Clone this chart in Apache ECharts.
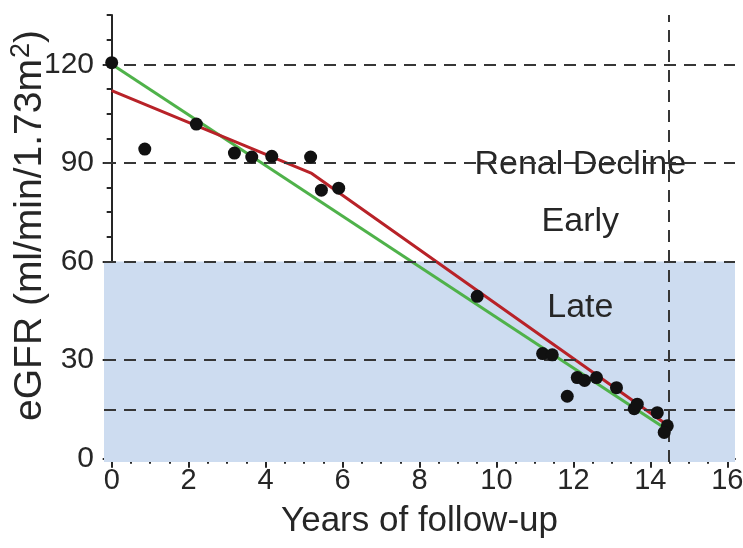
<!DOCTYPE html>
<html>
<head>
<meta charset="utf-8">
<script src="https://cdn.jsdelivr.net/npm/echarts@6/dist/echarts.min.js"></script>
<style>
  html, body { margin: 0; padding: 0; background: #fff; }
  #chart { width: 743px; height: 548px; }
</style>
</head>
<body>
<div id="chart"></div>
<script>
// Observed eGFR measurements over follow-up
const years = [0, 0.86, 2.2, 3.19, 3.64, 4.16, 5.17, 5.45, 5.9, 9.5,
  11.2, 11.45, 11.84, 12.1, 12.29, 12.6, 13.12, 13.58, 13.66, 14.18, 14.44, 14.36];
const egfr = [120.5, 94.2, 101.8, 93, 91.8, 92, 91.8, 81.7, 82.3, 49.4,
  32, 31.6, 19, 24.7, 23.8, 24.7, 21.6, 15.2, 16.6, 14, 10, 8];

// Linear fit (green)
const linearYears = [0, 14.35];
const linearEgfr = [120, 9.5];

// Two-slope fit (red)
const piecewiseYears = [0, 5.2, 14.35];
const piecewiseEgfr = [112, 86.8, 11];

// Reference levels and end of follow-up
const thresholds = [120, 90, 60, 30, 15];
const followUpEnd = 14.47;
const lateStageTop = 60;

// Axis ticks
const xLabels = [0, 2, 4, 6, 8, 10, 12, 14, 16];
const xMinor = [0.5, 1, 1.5, 2.5, 3, 3.5, 4.5, 5, 5.5, 6.5, 7, 7.5, 8.5, 9, 9.5,
  10.5, 11, 11.5, 12.5, 13, 13.5, 14.5, 15, 15.5];
const yLabels = [0, 30, 60, 90, 120];
const yMinor = [7.5, 15, 22.5, 37.5, 45, 52.5, 67.5, 75, 82.5, 97.5, 105, 112.5, 127.5, 135];

// Stage annotations
const stageNames = ['Renal Decline', 'Early', 'Late'];
const stageX = [12.18, 12.18, 12.18];
const stageY = [89.5, 72, 46];

const FONT = 'Liberation Sans, Arial, Helvetica, sans-serif';
const INK = '#262626';

const pair = (xs, ys) => xs.map((x, i) => [x, ys[i]]);

const chart = echarts.init(document.getElementById('chart'), null, { renderer: 'canvas' });

const dashStyle = { color: '#363636', width: 2, type: [12, 8] };

chart.setOption({
  animation: false,
  backgroundColor: '#ffffff',
  grid: { left: 104, right: 8, top: 15, bottom: 86, containLabel: false, outerBoundsMode: 'none' },
  xAxis: [
    {
      type: 'value', min: -0.2, max: 16.2,
      name: 'Years of follow-up', nameLocation: 'middle', nameGap: 42, nameMoveOverlap: false,
      nameTextStyle: { fontFamily: FONT, fontSize: 35, color: INK },
      axisLine: { show: true, lineStyle: { color: INK, width: 2 } },
      axisTick: { show: true, length: 9, customValues: xLabels, lineStyle: { color: INK, width: 2 } },
      axisLabel: { customValues: xLabels, fontFamily: FONT, fontSize: 29, color: INK, margin: 4 },
      splitLine: { show: false }
    },
    {
      type: 'value', min: -0.2, max: 16.2, position: 'bottom',
      axisLine: { show: false },
      axisTick: { show: true, length: 5, customValues: xMinor, lineStyle: { color: INK, width: 2 } },
      axisLabel: { show: false },
      splitLine: { show: false }
    }
  ],
  yAxis: [
    {
      type: 'value', min: -1, max: 135,
      name: 'eGFR (ml/min/1.73m{sup|2})', nameLocation: 'middle', nameGap: 52, nameMoveOverlap: false,
      nameTextStyle: {
        fontFamily: FONT, fontSize: 39, color: INK, padding: [0, 0, 0, 26],
        rich: { sup: { fontFamily: FONT, fontSize: 27, color: INK, verticalAlign: 'top', padding: [0, 0, 17, 1] } }
      },
      axisLine: { show: true, lineStyle: { color: INK, width: 2 } },
      axisTick: { show: true, length: 9, customValues: yLabels, lineStyle: { color: INK, width: 2 } },
      axisLabel: { customValues: yLabels, fontFamily: FONT, fontSize: 30, color: INK, margin: 10 },
      splitLine: { show: false }
    },
    {
      type: 'value', min: -1, max: 135, position: 'left',
      axisLine: { show: false },
      axisTick: { show: true, length: 5, customValues: yMinor, lineStyle: { color: INK, width: 2 } },
      axisLabel: { show: false },
      splitLine: { show: false }
    }
  ],
  series: [
    {
      name: 'reference',
      type: 'line',
      data: [],
      silent: true,
      z: 1,
      markArea: {
        silent: true,
        itemStyle: { color: '#cddcf0' },
        data: [[{ yAxis: -1 }, { yAxis: lateStageTop }]]
      },
      markLine: {
        silent: true,
        symbol: 'none',
        label: { show: false },
        lineStyle: dashStyle,
        data: thresholds.map(v => ({ yAxis: v })).concat([{ xAxis: followUpEnd }])
      }
    },
    {
      name: 'stages',
      type: 'scatter',
      symbolSize: 0,
      silent: true,
      z: 2,
      itemStyle: { opacity: 1 },
      data: pair(stageX, stageY).map((p, i) => ({ value: p, name: stageNames[i] })),
      label: {
        show: true, position: 'inside', formatter: p => p.name,
        fontFamily: FONT, fontSize: 34, color: '#262626', opacity: 1
      }
    },
    {
      name: 'Linear',
      type: 'line',
      data: pair(linearYears, linearEgfr),
      showSymbol: false,
      z: 3,
      lineStyle: { color: '#4fb24a', width: 3 }
    },
    {
      name: 'Piecewise',
      type: 'line',
      data: pair(piecewiseYears, piecewiseEgfr),
      showSymbol: false,
      z: 4,
      lineStyle: { color: '#b82228', width: 3 }
    },
    {
      name: 'eGFR',
      type: 'scatter',
      data: pair(years, egfr),
      symbol: 'circle',
      symbolSize: 13,
      z: 5,
      itemStyle: { color: '#111111', opacity: 1 }
    }
  ]
});
</script>
</body>
</html>
